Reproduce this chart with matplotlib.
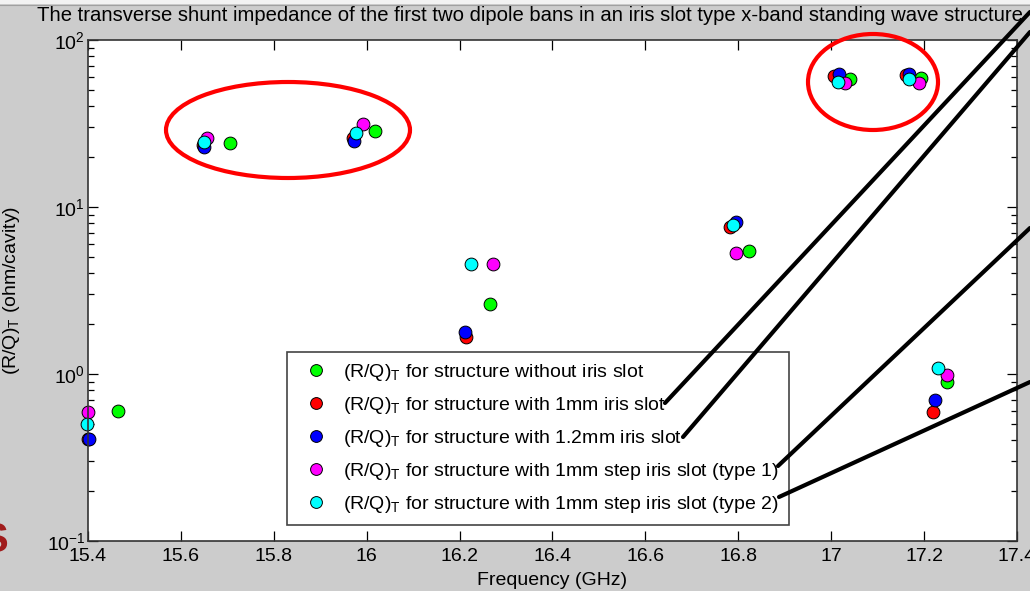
import matplotlib
matplotlib.use('Agg')
import matplotlib.pyplot as plt
from matplotlib.patches import Ellipse, Rectangle
from matplotlib.lines import Line2D
from matplotlib.ticker import FuncFormatter, LogLocator

plt.rcParams['font.family'] = ['Liberation Sans', 'DejaVu Sans']
plt.rcParams['mathtext.fontset'] = 'custom'
plt.rcParams['mathtext.rm'] = 'Liberation Sans'

# ---- data (GHz, ohm/cavity) ----
freq_no_slot = [15.465, 15.706, 16.017, 16.265, 16.824, 17.041, 17.193, 17.250]
rq_no_slot = [0.60, 24.3, 28.7, 2.61, 5.47, 58.2, 59.5, 0.89]

freq_1mm = [15.400, 15.648, 15.970, 16.214, 16.782, 17.006, 17.161, 17.219]
rq_1mm = [0.41, 23.5, 26.0, 1.67, 7.6, 60.8, 61.7, 0.59]

freq_12mm = [15.402, 15.650, 15.973, 16.211, 16.794, 17.016, 17.168, 17.223]
rq_12mm = [0.41, 23.0, 24.8, 1.79, 8.09, 62.4, 62.4, 0.70]

freq_step1 = [15.400, 15.657, 15.992, 16.272, 16.796, 17.030, 17.188, 17.249]
rq_step1 = [0.59, 25.8, 31.4, 4.54, 5.32, 55.1, 55.5, 0.99]

freq_step2 = [15.398, 15.650, 15.976, 16.225, 16.788, 17.015, 17.168, 17.230]
rq_step2 = [0.50, 24.4, 27.6, 4.54, 7.8, 56.2, 58.4, 1.09]

series = [
    (freq_no_slot, rq_no_slot, '#00ff00', 'without iris slot'),
    (freq_1mm, rq_1mm, '#ff0000', 'with 1mm iris slot'),
    (freq_12mm, rq_12mm, '#0000ff', 'with 1.2mm iris slot'),
    (freq_step1, rq_step1, '#ff00ff', 'with 1mm step iris slot (type 1)'),
    (freq_step2, rq_step2, '#00ffff', 'with 1mm step iris slot (type 2)'),
]

W, H = 1030, 591
fig = plt.figure(figsize=(W / 100, H / 100), dpi=100, facecolor='#cccccc')

# light strip at the very top of the screenshot
fig.patches.append(Rectangle((0, 1 - 4 / H), 1, 4 / H, transform=fig.transFigure,
                             facecolor='#f2f2f2', edgecolor='none', zorder=0))
fig.lines.append(Line2D([0, 1], [1 - 4.5 / H, 1 - 4.5 / H], transform=fig.transFigure,
                        color='#a0a0a0', lw=0.8))

ax = fig.add_axes([88 / W, 1 - 541 / H, 929 / W, 501 / H])
ax.set_facecolor('white')

for fx, ry, col, lab in series:
    ax.plot(fx, ry, 'o', ls='none', color=col, mec='black', mew=0.7, ms=9.2,
            clip_on=False, label=r'(R/Q)$_\mathregular{T}$ for structure ' + lab)

ax.set_yscale('log')
ax.set_xlim(15.4, 17.4)
ax.set_ylim(0.1, 100)
ax.set_xticks([15.4 + 0.2 * i for i in range(11)])
ax.xaxis.set_major_formatter(FuncFormatter(lambda v, p: '%g' % round(v, 1)))
ax.yaxis.set_minor_locator(LogLocator(base=10, subs=range(2, 10)))
ax.tick_params(which='both', direction='in', top=True, right=True, labelsize=14)
ax.tick_params(which='major', length=7, width=0.9)
ax.tick_params(which='minor', length=4, width=0.9)
ax.tick_params(axis='y', pad=2)
ax.tick_params(axis='x', pad=5)
for s in ax.spines.values():
    s.set_color('#333333')
    s.set_linewidth(1.2)

ax.set_xlabel('Frequency (GHz)', fontsize=14, labelpad=5)
ax.set_ylabel(r'(R/Q)$_\mathregular{T}$ (ohm/cavity)', fontsize=14)
ax.yaxis.set_label_coords((22 - 88) / 929, 0.5)

leg = ax.legend(loc='upper left', bbox_to_anchor=(287 / W, 1 - 352 / H),
                bbox_transform=fig.transFigure, borderaxespad=0, fontsize=14,
                handlelength=2, handletextpad=0.39, borderpad=0.5,
                labelspacing=0.62, fancybox=False, framealpha=1,
                edgecolor='#444444', numpoints=1)
leg.get_frame().set_linewidth(1.2)
for h in leg.legend_handles:
    h.set_markersize(8.5)

# title, fitted to the width it takes in the screenshot
title = fig.text(37 / W, 1 - 21 / H, 'The transverse shunt impedance of the first two dipole bans '
                 'in an iris slot type x-band standing wave structure',
                 fontsize=14, ha='left', va='baseline')
fig.canvas.draw()
tw = title.get_window_extent().width
title.set_fontsize(14 * 993 / tw)

# red annotation ellipses
for cx, cy, ew, eh in [(288, 130, 244, 96), (873, 82, 130, 96)]:
    fig.patches.append(Ellipse((cx / W, 1 - cy / H), ew / W, eh / H, transform=fig.transFigure,
                               fill=False, edgecolor='#ff0000', lw=3.0, zorder=5))

# black pointer lines from the legend to the right edge
for (x0, y0), (x1, y1) in [((665, 403), (1030, 12)), ((683, 437), (1030, 32)),
                           ((778, 466), (1030, 228)), ((779, 497), (1030, 382))]:
    fig.lines.append(Line2D([x0 / W, x1 / W], [1 - y0 / H, 1 - y1 / H],
                            transform=fig.transFigure, color='black', lw=3.0,
                            solid_capstyle='round', zorder=6))

# clipped slide letter at the left edge
fig.text(-19 / W, 1 - 552 / H, 'S', fontsize=30, fontweight='bold', color='#a01c1c')

fig.savefig('out.png', dpi=100, facecolor=fig.get_facecolor())
